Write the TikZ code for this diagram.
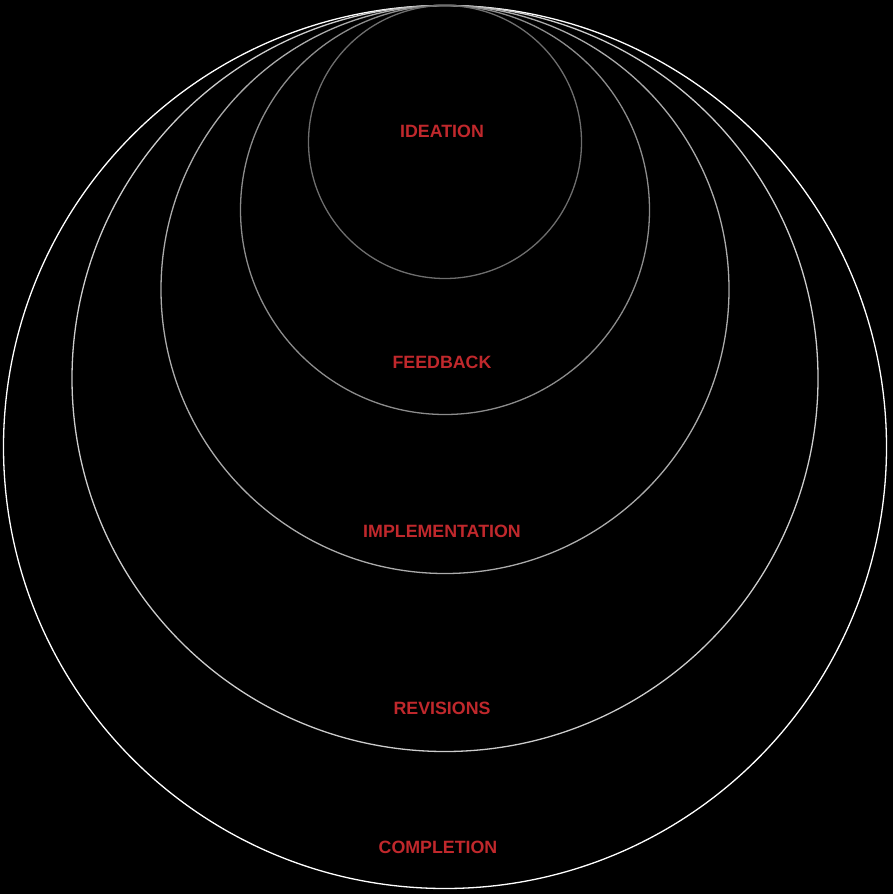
\documentclass[tikz,border=0pt]{standalone}
\usepackage{fontspec}
\setmainfont{Liberation Sans}
\begin{document}
\begin{tikzpicture}[x=1pt,y=-1pt,
  ring/.style={line width=1.3pt},
  lbl/.style={text=labelred,font=\fontsize{17.8}{20}\selectfont\bfseries,inner sep=0pt}]
\definecolor{labelred}{HTML}{C0282C}
\fill[black] (0,0) rectangle (893,894);
\useasboundingbox (0,0) rectangle (893,894);
\coordinate (top) at (445,5.5);
\draw[ring,draw=white] ([yshift=-441.5pt]top) circle[radius=441.5];
\draw[ring,draw=black!20!white] ([yshift=-373pt]top) circle[radius=373];
\draw[ring,draw=black!33!white] ([yshift=-284pt]top) circle[radius=284];
\draw[ring,draw=black!45!white] ([yshift=-204.5pt]top) circle[radius=204.5];
\draw[ring,draw=black!57!white] ([yshift=-136.5pt]top) circle[radius=136.5];
\node[lbl] (ideation) at (442,131) {IDEATION};
\node[lbl] (feedback) at (442,362) {FEEDBACK};
\node[lbl] (implementation) at (442,531) {IMPLEMENTATION};
\node[lbl] (revisions) at (442,708) {REVISIONS};
\node[lbl] (completion) at (438,847) {COMPLETION};
\end{tikzpicture}
\end{document}
